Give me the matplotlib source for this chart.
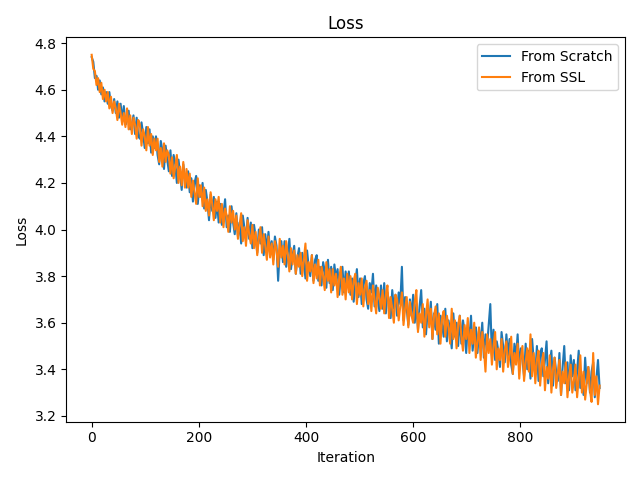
import matplotlib
matplotlib.use("Agg")
import matplotlib.pyplot as plt

# iterations, sampled every 3 steps
iterations = list(range(0, 949, 3))

scratch_loss = [
    4.74, 4.72, 4.65, 4.66, 4.60, 4.64, 4.58, 4.61, 4.55, 4.59,
    4.54, 4.59, 4.53, 4.51, 4.56, 4.50, 4.55, 4.48, 4.54, 4.47,
    4.53, 4.45, 4.47, 4.51, 4.43, 4.45, 4.49, 4.41, 4.48, 4.40,
    4.39, 4.46, 4.41, 4.35, 4.44, 4.37, 4.43, 4.33, 4.40, 4.35,
    4.40, 4.32, 4.28, 4.38, 4.34, 4.26, 4.36, 4.30, 4.25, 4.34,
    4.23, 4.32, 4.28, 4.20, 4.30, 4.24, 4.17, 4.28, 4.22, 4.18,
    4.25, 4.16, 4.22, 4.12, 4.20, 4.23, 4.11, 4.19, 4.14, 4.20,
    4.09, 4.17, 4.12, 4.04, 4.15, 4.08, 4.14, 4.05, 4.12, 4.03,
    4.11, 4.02, 4.07, 4.13, 4.01, 4.06, 3.99, 4.10, 4.03, 3.98,
    4.07, 3.97, 4.03, 3.94, 4.06, 4.01, 3.95, 4.05, 3.96, 4.03,
    3.92, 4.02, 3.97, 3.90, 4.00, 3.94, 4.01, 3.89, 3.98, 3.91,
    3.99, 3.90, 3.95, 3.87, 3.97, 3.93, 3.78, 3.91, 3.95, 3.86,
    3.95, 3.84, 3.90, 3.96, 3.83, 3.89, 3.93, 3.81, 3.88, 3.92,
    3.81, 3.90, 3.86, 3.79, 3.91, 3.84, 3.80, 3.89, 3.78, 3.87,
    3.89, 3.78, 3.84, 3.76, 3.86, 3.82, 3.75, 3.87, 3.77, 3.84,
    3.74, 3.85, 3.79, 3.83, 3.72, 3.80, 3.84, 3.73, 3.82, 3.76,
    3.82, 3.72, 3.79, 3.69, 3.77, 3.83, 3.71, 3.79, 3.68, 3.77,
    3.80, 3.70, 3.66, 3.77, 3.73, 3.81, 3.67, 3.76, 3.70, 3.65,
    3.76, 3.66, 3.77, 3.64, 3.73, 3.69, 3.62, 3.74, 3.66, 3.72,
    3.63, 3.73, 3.68, 3.84, 3.61, 3.71, 3.66, 3.59, 3.70, 3.63,
    3.72, 3.60, 3.68, 3.57, 3.67, 3.74, 3.58, 3.66, 3.55, 3.65,
    3.60, 3.69, 3.53, 3.64, 3.57, 3.68, 3.51, 3.63, 3.59, 3.54,
    3.66, 3.52, 3.61, 3.56, 3.49, 3.64, 3.54, 3.60, 3.50, 3.63,
    3.51, 3.61, 3.56, 3.47, 3.59, 3.53, 3.63, 3.48, 3.55, 3.58,
    3.47, 3.57, 3.51, 3.60, 3.45, 3.55, 3.50, 3.59, 3.68, 3.46,
    3.57, 3.44, 3.52, 3.48, 3.41, 3.56, 3.50, 3.43, 3.55, 3.46,
    3.53, 3.42, 3.38, 3.51, 3.45, 3.55, 3.40, 3.49, 3.44, 3.37,
    3.51, 3.40, 3.48, 3.36, 3.53, 3.44, 3.38, 3.50, 3.35, 3.46,
    3.49, 3.37, 3.44, 3.52, 3.34, 3.42, 3.48, 3.33, 3.45, 3.39,
    3.35, 3.47, 3.29, 3.41, 3.50, 3.34, 3.43, 3.31, 3.46, 3.37,
    3.44, 3.31, 3.39, 3.48, 3.32, 3.37, 3.29, 3.45, 3.34, 3.41,
    3.30, 3.39, 3.43, 3.28, 3.36, 3.44, 3.32,
]

ssl_loss = [
    4.75, 4.69, 4.68, 4.62, 4.65, 4.59, 4.63, 4.56, 4.60, 4.55,
    4.59, 4.52, 4.57, 4.50, 4.55, 4.52, 4.47, 4.54, 4.50, 4.45,
    4.50, 4.44, 4.52, 4.43, 4.49, 4.41, 4.48, 4.45, 4.39, 4.47,
    4.45, 4.36, 4.43, 4.40, 4.34, 4.44, 4.36, 4.41, 4.32, 4.39,
    4.34, 4.39, 4.29, 4.35, 4.27, 4.37, 4.29, 4.34, 4.32, 4.24,
    4.31, 4.22, 4.27, 4.32, 4.20, 4.27, 4.19, 4.29, 4.18, 4.26,
    4.18, 4.24, 4.14, 4.21, 4.16, 4.11, 4.22, 4.14, 4.19, 4.10,
    4.18, 4.08, 4.13, 4.06, 4.16, 4.11, 4.04, 4.13, 4.08, 4.14,
    4.03, 4.11, 4.01, 4.09, 4.06, 3.99, 4.10, 4.03, 4.08, 4.00,
    4.06, 3.96, 4.02, 4.07, 3.95, 4.01, 3.93, 4.04, 3.98, 3.94,
    4.02, 3.92, 3.99, 3.89, 3.96, 4.01, 3.90, 3.98, 3.93, 3.87,
    3.97, 3.88, 3.94, 3.85, 3.95, 3.91, 3.84, 3.96, 3.88, 3.93,
    3.85, 3.95, 3.89, 3.82, 3.92, 3.85, 3.91, 3.81, 3.89, 3.84,
    3.90, 3.80, 3.87, 3.94, 3.78, 3.86, 3.82, 3.89, 3.77, 3.85,
    3.79, 3.87, 3.76, 3.84, 3.80, 3.74, 3.86, 3.78, 3.83, 3.73,
    3.83, 3.76, 3.81, 3.71, 3.79, 3.84, 3.72, 3.79, 3.70, 3.81,
    3.73, 3.80, 3.70, 3.78, 3.81, 3.68, 3.77, 3.72, 3.79, 3.67,
    3.75, 3.78, 3.68, 3.74, 3.65, 3.76, 3.70, 3.64, 3.75, 3.71,
    3.66, 3.74, 3.64, 3.72, 3.76, 3.62, 3.71, 3.66, 3.60, 3.72,
    3.70, 3.61, 3.67, 3.73, 3.59, 3.66, 3.71, 3.58, 3.69, 3.63,
    3.60, 3.69, 3.74, 3.56, 3.64, 3.60, 3.68, 3.54, 3.63, 3.70,
    3.58, 3.66, 3.53, 3.63, 3.67, 3.55, 3.64, 3.51, 3.62, 3.65,
    3.54, 3.63, 3.58, 3.51, 3.66, 3.53, 3.61, 3.49, 3.59, 3.63,
    3.54, 3.48, 3.59, 3.53, 3.62, 3.47, 3.57, 3.51, 3.60, 3.45,
    3.52, 3.58, 3.44, 3.56, 3.49, 3.39, 3.55, 3.47, 3.53, 3.42,
    3.50, 3.56, 3.40, 3.49, 3.44, 3.53, 3.39, 3.48, 3.52, 3.41,
    3.46, 3.54, 3.38, 3.47, 3.42, 3.51, 3.36, 3.45, 3.50, 3.35,
    3.43, 3.49, 3.39, 3.55, 3.37, 3.47, 3.34, 3.44, 3.48, 3.33,
    3.42, 3.47, 3.31, 3.41, 3.36, 3.46, 3.30, 3.40, 3.45, 3.32,
    3.38, 3.44, 3.29, 3.39, 3.34, 3.43, 3.28, 3.37, 3.42, 3.30,
    3.35, 3.42, 3.28, 3.36, 3.46, 3.30, 3.39, 3.27, 3.34, 3.41,
    3.31, 3.26, 3.47, 3.29, 3.37, 3.25, 3.33,
]

fig, ax = plt.subplots(figsize=(6.4, 4.8), dpi=100)
ax.plot(iterations, scratch_loss, label="From Scratch")
ax.plot(iterations, ssl_loss, label="From SSL")
ax.set_title("Loss")
ax.set_xlabel("Iteration")
ax.set_ylabel("Loss")
ax.legend(loc="upper right")
fig.tight_layout()
fig.savefig("out.png")
